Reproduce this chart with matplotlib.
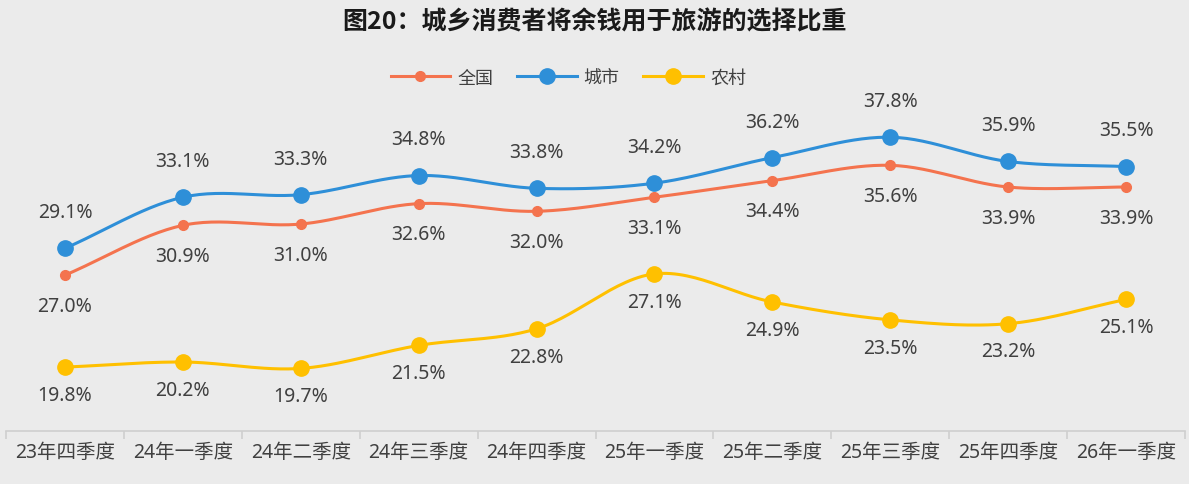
import numpy as np
import matplotlib.pyplot as plt

plt.rcParams['font.family'] = ['Noto Sans', 'Noto Sans CJK SC', 'DejaVu Sans']

quarters = ['23年四季度', '24年一季度', '24年二季度', '24年三季度', '24年四季度',
            '25年一季度', '25年二季度', '25年三季度', '25年四季度', '26年一季度']
national = [27.0, 30.9, 31.0, 32.6, 32.0, 33.1, 34.4, 35.6, 33.9, 33.9]
urban = [29.1, 33.1, 33.3, 34.8, 33.8, 34.2, 36.2, 37.8, 35.9, 35.5]
rural = [19.8, 20.2, 19.7, 21.5, 22.8, 27.1, 24.9, 23.5, 23.2, 25.1]

BG = '#ebebeb'
TXT = '#404040'


def smooth(x, y, n=30):
    # catmull-rom curve through the points, for the smoothed line look
    x = np.asarray(x, float)
    y = np.asarray(y, float)
    px = np.concatenate([[2 * x[0] - x[1]], x, [2 * x[-1] - x[-2]]])
    py = np.concatenate([[2 * y[0] - y[1]], y, [2 * y[-1] - y[-2]]])
    xs, ys = [], []
    t = np.linspace(0, 1, n)
    for i in range(1, len(px) - 2):
        for p, out in ((px, xs), (py, ys)):
            p0, p1, p2, p3 = p[i - 1], p[i], p[i + 1], p[i + 2]
            out.append(0.5 * (2 * p1 + (-p0 + p2) * t
                              + (2 * p0 - 5 * p1 + 4 * p2 - p3) * t ** 2
                              + (-p0 + 3 * p1 - 3 * p2 + p3) * t ** 3))
    return np.concatenate(xs), np.concatenate(ys)


fig = plt.figure(figsize=(11.89, 4.85), dpi=100, facecolor=BG)
ax = fig.add_axes([6 / 1189, 53 / 485, 1179 / 1189, 327 / 485], facecolor=BG)

x = np.arange(len(quarters))
series = [
    ('全国', national, '#f4734e', 7, 'below', 22),
    ('城市', urban, '#2e8fd8', 11, 'above', 26),
    ('农村', rural, '#ffc000', 11, 'below', 20),
]
for name, vals, color, ms, pos, off in series:
    sx, sy = smooth(x, vals)
    ax.plot(sx, sy, color=color, lw=2.2, zorder=2)
    ax.plot(x, vals, 'o', color=color, ms=ms, zorder=3)
    ax.plot([], [], color=color, lw=2.2, marker='o', ms=ms, label=name)
    for xi, v in zip(x, vals):
        dy = off if pos == 'above' else -off
        ax.annotate(f'{v:.1f}%', (xi, v), xytext=(0, dy), textcoords='offset points',
                    ha='center', va='center', fontsize=14, color=TXT)

ax.set_xlim(-0.5, len(quarters) - 0.5)
ax.set_ylim(14.8, 40.4)
ax.set_yticks([])
for s in ['top', 'left', 'right']:
    ax.spines[s].set_visible(False)
ax.spines['bottom'].set_color('#cfcfcf')
ax.spines['bottom'].set_linewidth(1.2)

ax.set_xticks(x)
ax.set_xticklabels(quarters, fontsize=14, color=TXT)
ax.tick_params(axis='x', which='major', length=0, pad=8)
ax.set_xticks(np.arange(-0.5, len(quarters)), minor=True)
ax.tick_params(axis='x', which='minor', length=6, color='#cfcfcf', width=1.2)

fig.text(0.5, 0.953, '图20：城乡消费者将余钱用于旅游的选择比重', ha='center', va='center',
         fontsize=18, fontweight='bold', color='#1a1a1a',
         family=['Noto Sans CJK SC', 'DejaVu Sans'])
fig.legend(loc='center', bbox_to_anchor=(0.478, 0.838), ncol=3, frameon=False,
           fontsize=13, handlelength=3.3, columnspacing=1.3, handletextpad=0.4,
           labelcolor=TXT)

fig.savefig('out.png', dpi=100, facecolor=BG)
